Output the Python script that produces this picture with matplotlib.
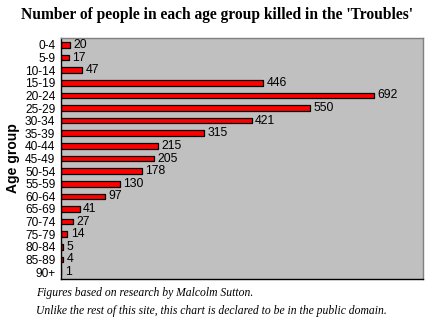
import matplotlib
matplotlib.use("Agg")
import matplotlib.pyplot as plt

categories = ["0-4", "5-9", "10-14", "15-19", "20-24", "25-29", "30-34", "35-39",
              "40-44", "45-49", "50-54", "55-59", "60-64", "65-69", "70-74", "75-79",
              "80-84", "85-89", "90+"]
values = [20, 17, 47, 446, 692, 550, 421, 315, 215, 205, 178, 130, 97, 41, 27, 14, 5, 4, 1]

W, H = 435, 321
fig = plt.figure(figsize=(W / 100, H / 100), dpi=100)
fig.patch.set_facecolor("white")
ax = fig.add_axes([61 / W, 1 - 279 / H, (423 - 61) / W, (279 - 38) / H])
ax.set_facecolor("#C0C0C0")

ypos = list(range(len(categories)))
ax.barh(ypos, values, height=0.45, color="#FF0000", edgecolor="black", linewidth=0.9)
for y, v in zip(ypos, values):
    ax.text(v + 8, y, str(v), va="center", ha="left", fontsize=8.8,
            family="Liberation Sans", color="black")

ax.set_xlim(0, 800)
ax.set_ylim(len(categories) - 1 + 0.55, -0.55)
ax.set_yticks(ypos)
ax.set_yticklabels(categories, fontsize=8.6, family="Liberation Sans")
ax.tick_params(axis="y", length=0, pad=4)
ax.set_xticks([])
ax.set_ylabel("Age group", fontsize=10, fontweight="bold", family="Liberation Sans", labelpad=4)

for side in ["left", "bottom"]:
    ax.spines[side].set_color("black")
    ax.spines[side].set_linewidth(1)
for side in ["top", "right"]:
    ax.spines[side].set_color("#808080")
    ax.spines[side].set_linewidth(1)

fig.text(217 / W, 1 - 15 / H, "Number of people in each age group killed in the 'Troubles'",
         ha="center", va="center", fontsize=11.2, fontweight="bold", family="Liberation Serif")
fig.text(36 / W, 1 - 293 / H, "Figures based on research by Malcolm Sutton.",
         ha="left", va="center", fontsize=8.4, style="italic", family="Liberation Serif")
fig.text(36 / W, 1 - 311 / H, "Unlike the rest of this site, this chart is declared to be in the public domain.",
         ha="left", va="center", fontsize=8.4, style="italic", family="Liberation Serif")

fig.savefig("out.png", dpi=100, facecolor="white")
